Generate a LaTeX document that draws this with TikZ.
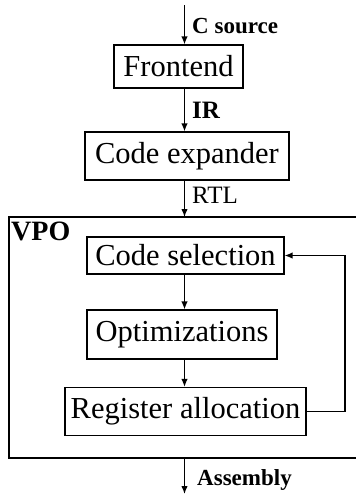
\documentclass[tikz,border=0pt]{standalone}
\usepackage{fontspec}
\setmainfont{Liberation Serif}
\usetikzlibrary{arrows.meta}
\tikzset{
  stage/.style={draw, line width=1.2pt, inner sep=0pt, align=center,
    font=\fontsize{30.5}{36}\selectfont},
  flow/.style={line width=1.3pt, -{Latex[length=8pt,width=6.5pt]}},
  lbl/.style={anchor=base west, inner sep=0pt, font=\fontsize{23}{27}\selectfont},
}
\begin{document}
\begin{tikzpicture}[x=1pt, y=-1pt]
\useasboundingbox (0,0) rectangle (356,496);

% processing stages
\node[stage, minimum width=129pt, minimum height=43pt] (fe) at (178.5,66.5) {Frontend};
\node[stage, minimum width=204pt, minimum height=48pt] (ce) at (187,156) {Code expander};
\node[stage, minimum width=197pt, minimum height=37pt] (cs) at (185.5,255.5) {Code selection};
\node[stage, minimum width=190pt, minimum height=49pt] (op) at (182,334.5) {Optimizations};
\node[stage, minimum width=241pt, minimum height=48pt] (ra) at (185.5,411.5) {Register allocation};

% VPO frame (open on the right)
\draw[line width=1.2pt] (357,217) -- (9,217) -- (9,458) -- (357,458);
\node[anchor=base west, inner sep=0pt, font=\fontsize{28}{32}\selectfont\bfseries] (vpo) at (11,240) {VPO};

% points on the main column
\coordinate (cx) at (184.5,0);
\coordinate (src) at (184.5,5);
\coordinate (vtop) at (184.5,217);
\coordinate (vbot) at (184.5,458);
\coordinate (out) at (184.5,494);
\coordinate (fbx) at (345,255.5);

% data flow
\draw[flow] (src) -- (fe.north -| cx);
\draw[flow] (fe.south -| cx) -- (ce.north -| cx);
\draw[flow] (ce.south -| cx) -- (vtop);
\draw[flow] (cs.south -| cx) -- (op.north -| cx);
\draw[flow] (op.south -| cx) -- (ra.north -| cx);
\draw[flow] (vbot) -- (out);

% feedback loop
\draw[flow] (ra.east) -| (fbx) -- (cs.east);

% edge labels
\node[lbl, font=\fontsize{23}{27}\selectfont\bfseries] (l1) at (192,33) {C source};
\node[lbl, font=\fontsize{25}{29}\selectfont\bfseries] (l2) at (192,118) {IR};
\node[lbl, font=\fontsize{25}{29}\selectfont] (l3) at (192,203) {RTL};
\node[lbl, font=\fontsize{23}{27}\selectfont\bfseries] (l4) at (197,485) {Assembly};
\end{tikzpicture}
\end{document}
